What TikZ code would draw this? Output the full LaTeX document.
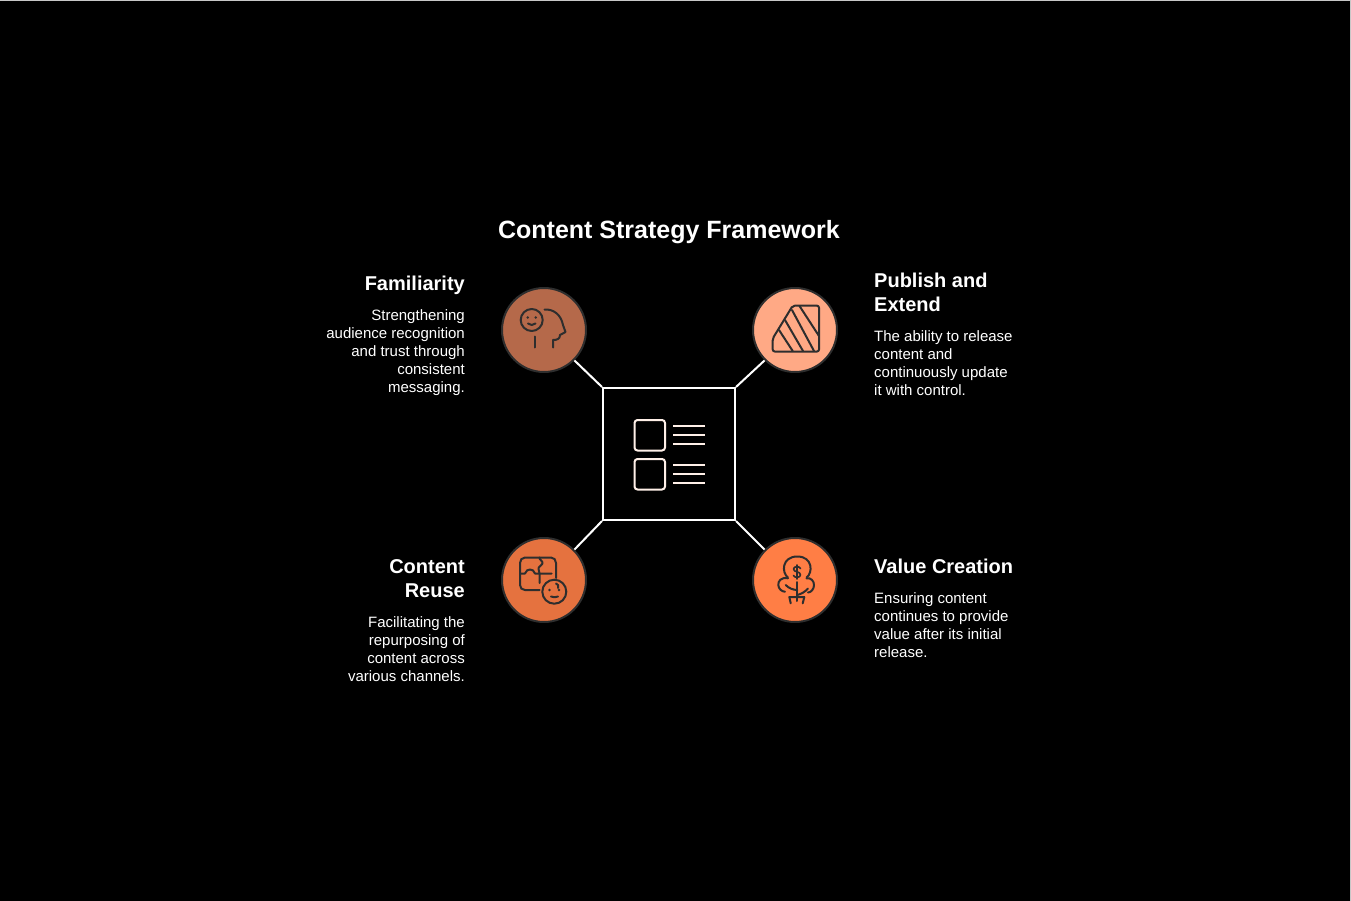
\documentclass[tikz,border=0pt]{standalone}
\usepackage{fontspec}
\setmainfont{Liberation Sans}
\usetikzlibrary{positioning}
\definecolor{famfill}{HTML}{B5694A}
\definecolor{pubfill}{HTML}{FFA985}
\definecolor{reusefill}{HTML}{E5723F}
\definecolor{valuefill}{HTML}{FF7E45}
\definecolor{iconline}{HTML}{2E2E2E}
\definecolor{hubline}{HTML}{FFF0E8}
\begin{document}
\begin{tikzpicture}[
  x=1pt, y=-1pt,
  node distance=6pt and 36pt,
  hub/.style={draw=white, line width=2pt, minimum size=132pt, inner sep=0pt},
  disc/.style={circle, draw=iconline, line width=2pt, minimum size=84pt, inner sep=0pt},
  head/.style={text=white, inner sep=0pt, font=\fontsize{20}{24}\selectfont\bfseries},
  desc/.style={text=white, inner sep=0pt, font=\fontsize{15}{18}\selectfont},
  link/.style={draw=white, line width=2pt},
  icon/.style={draw=iconline, line width=2pt, line cap=round, line join=round},
  hubicon/.style={draw=hubline, line width=2pt}
]
  \useasboundingbox (0,0) rectangle (1351,901);
  \fill[black] (0,0) rectangle (1351,901);
  \draw[black!22, line width=1pt] (0,0.5) -- (1350.5,0.5) -- (1350.5,901);

  \node[text=white, inner sep=0pt, font=\fontsize{25}{30}\selectfont\bfseries] (title) at (669,232) {Content Strategy Framework};

  \node[hub] (frame) at (669,454) {};
  \node[disc, fill=famfill] (fam) at (544,330) {};
  \node[disc, fill=pubfill] (pub) at (795,330) {};
  \node[disc, fill=reusefill] (reuse) at (544,580) {};
  \node[disc, fill=valuefill] (value) at (795,580) {};

  \draw[link] (fam.-45) -- (frame.north west);
  \draw[link] (pub.-135) -- (frame.north east);
  \draw[link] (reuse.45) -- (frame.south west);
  \draw[link] (value.135) -- (frame.south east);

  % labels
  \node[head, align=right, left=36pt of fam, yshift=45pt] (famhead) {Familiarity};
  \node[desc, align=right, below=15pt of famhead.south east, anchor=north east] (famdesc) {Strengthening\\audience recognition\\and trust through\\consistent\\messaging.};
  \node[head, align=left, right=36pt of pub, yshift=38pt] (pubhead) {Publish and\\Extend};
  \node[desc, align=left, below=19pt of pubhead.south west, anchor=north west] (pubdesc) {The ability to release\\content and\\continuously update\\it with control.};
  \node[head, align=right, left=36pt of reuse, yshift=1pt] (reusehead) {Content\\Reuse};
  \node[desc, align=right, below=18pt of reusehead.south east, anchor=north east] (reusedesc) {Facilitating the\\repurposing of\\content across\\various channels.};
  \node[head, align=left, right=36pt of value, yshift=14pt] (valuehead) {Value Creation};
  \node[desc, align=left, below=19pt of valuehead.south west, anchor=north west] (valuedesc) {Ensuring content\\continues to provide\\value after its initial\\release.};

  % center icon
  \draw[hubicon, rounded corners=3pt] (634.5,420) rectangle (665,450.5);
  \draw[hubicon, rounded corners=3pt] (634.5,459) rectangle (665,489.5);
  \foreach \y in {426,435,444,465,474,483}
    \draw[hubicon] (673,\y) -- (704.5,\y);

  % familiarity icon
  \draw[icon] (531.7,320) circle (11);
  \fill[iconline] (527.7,317.5) circle (1.4) (535.8,317.5) circle (1.4);
  \draw[icon] (528,323.5) .. controls (530,325.5) and (533.5,325.5) .. (535.5,323.5);
  \draw[icon] (535,336.5) -- (535,347.5);
  \draw[icon] (544.5,309.5) .. controls (554,309) and (561,315) .. (563,325) -- (565.5,332) -- (560,335) .. controls (560,339) and (557,340) .. (553,340) -- (553,347.5);

  % publish icon
  \draw[icon, rounded corners=2pt] (772.7,338.5) -- (792.7,305.7) -- (819,305.7) -- (819,351.5) -- (772.7,351.5) -- cycle;
  \draw[icon] (799.5,306) -- (819,336);
  \draw[icon] (792,310) -- (814,351);
  \draw[icon] (785,320) -- (803,351);
  \draw[icon] (779,330) -- (792.7,351);

  % reuse icon
  \draw[icon] (539.5,590) -- (525,590) .. controls (522,590) and (520,588) .. (520,585) -- (520,563) .. controls (520,560) and (522,557.5) .. (525,557.5) -- (551,557.5) .. controls (554,557.5) and (556,560) .. (556,563) -- (556,578);
  \draw[icon] (539.5,557.5) .. controls (539,560) and (543,560.5) .. (542.5,563.5) .. controls (542,566.5) and (538,566) .. (538.5,569) -- (539.5,573.5) -- (539.5,583);
  \draw[icon] (520,573.5) -- (525,573.5) .. controls (526,570.5) and (528,569.5) .. (530,569.5) .. controls (532,569.5) and (534,570.5) .. (535,573.5) -- (551.5,573.5);
  \draw[icon] (554.3,591.7) circle (12);
  \draw[icon] (556,583.5) .. controls (558,584) and (559,586) .. (558,588);
  \fill[iconline] (549.5,590) circle (1.3) (559,590) circle (1.3);
  \draw[icon] (551,596.5) .. controls (553,597.5) and (556,597.5) .. (558,596.5);

  % value icon
  \draw[icon] (788,577.5) .. controls (781.5,573) and (781.5,556.5) .. (797.3,556.5) .. controls (813,556.5) and (813,573) .. (806.5,577.5);
  \draw[icon] (788,578.3) .. controls (781,577) and (778,581) .. (778.3,585) .. controls (778.5,589) and (782,591.7) .. (785,591.7);
  \draw[icon] (806.5,578.3) .. controls (811,577.5) and (814,581) .. (814,585) .. controls (814,589) and (811,592.5) .. (808,592.5);
  \draw[icon] (797.3,582) -- (797.3,601);
  \draw[icon] (785.7,585) .. controls (788.5,588) and (793,590) .. (797.3,590);
  \draw[icon] (808,588.5) .. controls (805,592) and (801,594) .. (797.3,595);
  \draw[icon] (790.7,603.3) -- (789.3,597) -- (804.3,597) -- (802.7,603.3);
  \draw[icon, line width=1.6pt] (800.5,568.5) .. controls (800,566) and (793.5,566) .. (793.5,569) .. controls (793.5,572.5) and (800.5,571) .. (800.5,575) .. controls (800.5,578) and (794,578) .. (793.5,575.5);
  \draw[icon, line width=1.6pt] (797,565) -- (797,579);
\end{tikzpicture}
\end{document}
